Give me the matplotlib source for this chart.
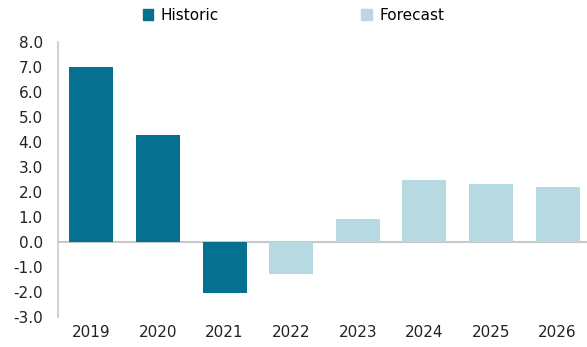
import matplotlib.pyplot as plt
from matplotlib.patches import Patch

plt.rcParams['font.family'] = ['DejaVu Sans']

# Jahreswerte, 2019-2021 historisch, ab 2022 Prognose
years = ["2019", "2020", "2021", "2022", "2023", "2024", "2025", "2026"]
values = [7.0, 4.25, -2.05, -1.3, 0.9, 2.45, 2.3, 2.2]
historic_years = ["2019", "2020", "2021"]

c_hist = "#05708f"
c_fore = "#b6d9e2"
c_axis = "#c8c8c8"

colors = [c_hist if y in historic_years else c_fore for y in years]

fig = plt.figure(figsize=(5.87, 3.47), dpi=100)
ax = fig.add_axes([0.0988, 0.0876, 0.908, 0.792])

x = range(len(years))
ax.bar(x, values, width=0.66, color=colors, zorder=2)

ax.set_xlim(-0.5, len(years) - 0.5)
ax.set_ylim(-3, 8)
ax.set_yticks(range(-3, 9))
ax.set_yticklabels([f"{v:.1f}" for v in range(-3, 9)])
ax.set_xticks(list(x))
ax.set_xticklabels(years)

ax.axhline(0, color=c_axis, lw=1.5, zorder=1)
for s in ["top", "right", "bottom"]:
    ax.spines[s].set_visible(False)
ax.spines["left"].set_color(c_axis)
ax.spines["left"].set_linewidth(1.2)
ax.tick_params(axis="both", length=0, labelsize=11, colors="#222222")
ax.tick_params(axis="y", pad=11)
ax.tick_params(axis="x", pad=6)

handles = [Patch(color=c_hist, label="Historic"), Patch(color=c_fore, label="Forecast")]
fig.legend(handles=handles, loc="center", bbox_to_anchor=(0.5, 0.955), ncol=2,
           frameon=False, fontsize=11, handlelength=0.7, handleheight=0.7,
           handletextpad=0.5, columnspacing=9.3)

fig.savefig("out.png", dpi=100)
